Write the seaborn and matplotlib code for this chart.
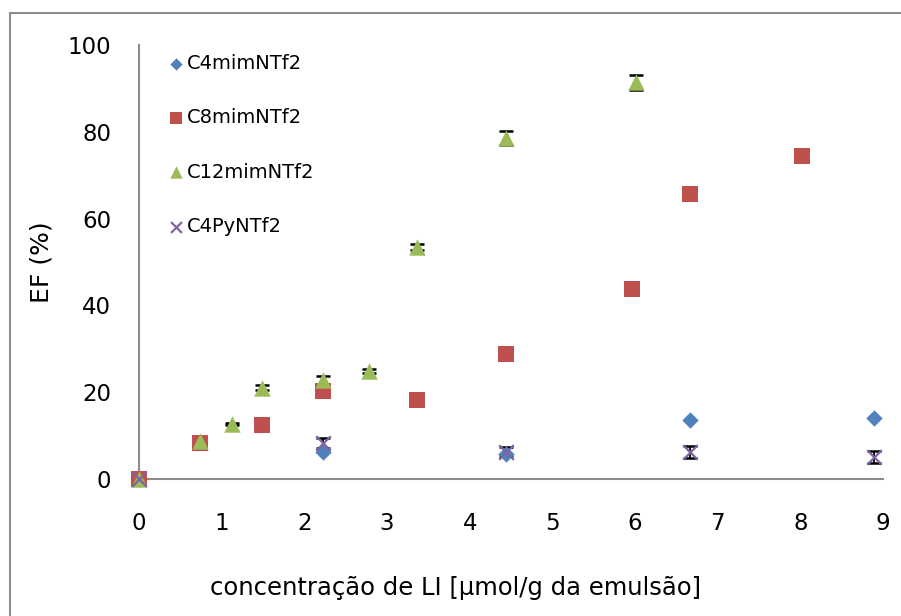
import matplotlib
matplotlib.use("Agg")
import matplotlib.pyplot as plt
from matplotlib.patches import Rectangle
import seaborn as sns
import pandas as pd

# Extraction factor (EF, %) versus ionic-liquid concentration for four ionic liquids
x_c4mim = [0, 2.22, 4.44, 6.67, 8.89]
y_c4mim = [0, 6.2, 5.8, 13.6, 14.1]

x_c8mim = [0, 0.74, 1.49, 2.22, 3.36, 4.44, 5.96, 6.67, 8.02]
y_c8mim = [0, 8.4, 12.4, 20.3, 18.2, 28.8, 43.8, 65.7, 74.4]

x_c12mim = [0, 0.74, 1.12, 1.49, 2.22, 2.78, 3.36, 4.44, 6.01]
y_c12mim = [0, 8.8, 12.7, 21.0, 22.8, 24.9, 53.5, 78.6, 91.4]
err_c12mim = [0, 0, 0.2, 0.6, 1.0, 0.5, 0.7, 1.6, 1.8]

x_c4py = [0, 2.22, 4.44, 6.67, 8.89]
y_c4py = [0, 8.3, 6.3, 6.2, 5.1]
err_c4py = [0, 1.2, 1.0, 1.3, 1.3]

labels = ["C4mimNTf2", "C8mimNTf2", "C12mimNTf2", "C4PyNTf2"]
x_ticks = list(range(0, 10))
y_ticks = [0, 20, 40, 60, 80, 100]

colors = ["#4F81BD", "#C0504D", "#9BBB59", "#8064A2"]

sns.set_theme(style="white")
plt.rcParams["font.family"] = ["DejaVu Sans"]
plt.rcParams["text.color"] = "black"
plt.rcParams["axes.labelcolor"] = "black"

fig = plt.figure(figsize=(9.01, 6.16), dpi=100)
ax = fig.add_axes([139 / 901, 1 - 479 / 616, (883 - 139) / 901, (479 - 45) / 616])

frames = {
    labels[0]: pd.DataFrame({"x": x_c4mim, "y": y_c4mim}),
    labels[1]: pd.DataFrame({"x": x_c8mim, "y": y_c8mim}),
    labels[2]: pd.DataFrame({"x": x_c12mim, "y": y_c12mim}),
    labels[3]: pd.DataFrame({"x": x_c4py, "y": y_c4py}),
}
markers = ["D", "s", "^", "x"]
sizes = [70, 135, 140, 110]

for i, (name, df) in enumerate(frames.items()):
    kw = dict(linewidth=0) if markers[i] != "x" else dict(linewidth=1.6)
    sns.scatterplot(data=df, x="x", y="y", marker=markers[i], s=sizes[i],
                    color=colors[i], label=name, ax=ax, zorder=4 + i, **kw)

# error bars sit underneath the markers
ax.errorbar(x_c12mim, y_c12mim, yerr=err_c12mim, fmt="none", ecolor="black",
            elinewidth=1.3, capsize=5, capthick=1.8, zorder=3)
ax.errorbar(x_c4py, y_c4py, yerr=err_c4py, fmt="none", ecolor="black",
            elinewidth=1.3, capsize=5, capthick=1.8, zorder=3)

ax.set_xlim(0, 9)
ax.set_ylim(0, 100)
ax.set_xticks(x_ticks)
ax.set_yticks(y_ticks)
for coll in ax.collections:
    coll.set_clip_on(False)
for ln in ax.lines:
    ln.set_clip_on(False)

for side in ("top", "right"):
    ax.spines[side].set_visible(False)
for side in ("left", "bottom"):
    ax.spines[side].set_color("#8C8C8C")
    ax.spines[side].set_linewidth(1.5)
ax.tick_params(axis="both", which="major", direction="out", length=8, width=1.5,
               color="#8C8C8C", labelsize=16.5, labelcolor="black")
ax.tick_params(axis="y", pad=12)
ax.tick_params(axis="x", pad=16)

ax.set_xlabel("concentração de LI [μmol/g da emulsão]", fontsize=17.5)
ax.xaxis.set_label_coords((456 - 139) / 744, -0.251)
ax.xaxis.label.set_va("center")
ax.set_ylabel("EF (%)", fontsize=18)
ax.yaxis.set_label_coords(-(139 - 42) / 744, 0.5)
ax.yaxis.label.set_va("center")

leg = ax.legend(loc="upper left", bbox_to_anchor=(158 / 901, 1 - 46 / 616),
                bbox_transform=fig.transFigure, frameon=False, fontsize=14,
                labelspacing=1.82, handletextpad=0.1, markerscale=0.75,
                handlelength=1.0, borderaxespad=0)
for t in leg.get_texts():
    t.set_color("black")

# outer chart-area border
fig.patches.append(Rectangle((10 / 901, -0.1), 1.2, 1.1 - 13 / 616,
                             transform=fig.transFigure, fill=False,
                             edgecolor="#8C8C8C", linewidth=1.5))

fig.savefig("out.png", dpi=100)
